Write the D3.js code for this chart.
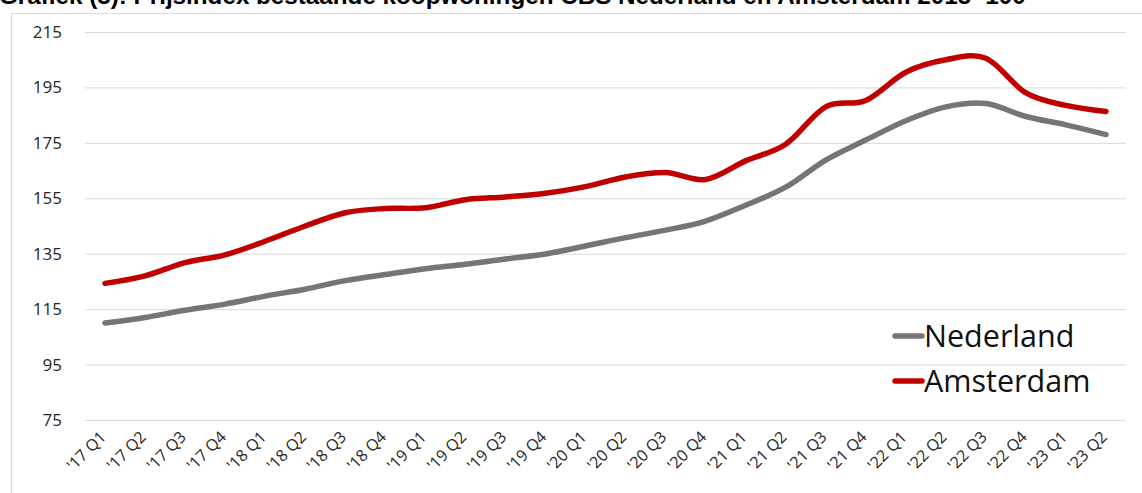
<!DOCTYPE html>
<html><head><meta charset="utf-8">
<script src="https://cdn.jsdelivr.net/npm/d3@7/dist/d3.min.js"></script>
<style>
html,body{margin:0;padding:0;background:#fff;overflow:hidden;}
svg{display:block;}
</style></head>
<body>
<svg id="chart" width="1142" height="493"></svg>
<script>
const categories = ["'17 Q1","'17 Q2","'17 Q3","'17 Q4","'18 Q1","'18 Q2","'18 Q3","'18 Q4","'19 Q1","'19 Q2","'19 Q3","'19 Q4","'20 Q1","'20 Q2","'20 Q3","'20 Q4","'21 Q1","'21 Q2","'21 Q3","'21 Q4","'22 Q1","'22 Q2","'22 Q3","'22 Q4","'23 Q1","'23 Q2"];
const nederland = [110,112,114.6,116.8,119.7,122.2,125.3,127.5,129.6,131.2,133.1,134.9,137.8,140.8,143.5,146.8,152.5,159,168.8,176,183,188,189.2,184.5,181.5,178];
const amsterdam = [124.3,127,131.8,134.6,139.5,145,149.8,151.3,151.6,154.5,155.5,156.8,159.2,162.7,164.3,161.8,168.5,174.5,188,190.3,200.5,205,205.5,193,188.5,186.3];
const yTicks = [75,95,115,135,155,175,195,215];
const seriesNames = ["Nederland","Amsterdam"];
const seriesColors = ["#787475","#c00000"];
const title = "Grafiek (3): Prijsindex bestaande koopwoningen CBS Nederland en Amsterdam 2015=100";

const svg = d3.select("#chart");
const plot = {left:85, right:1126, top:32, bottom:420};

// title (cropped at top, as in the source image)
const t = svg.append("text").attr("x",-1).attr("y",4)
  .attr("font-family","Liberation Sans, Arial, sans-serif").attr("font-weight","bold")
  .attr("font-size",20).attr("fill","#000").text(title);
const tl = t.node().getComputedTextLength();
t.attr("font-size", 20*1027/tl);

// frame
svg.append("rect").attr("x",11.5).attr("y",13.5).attr("width",1200).attr("height",600)
  .attr("fill","none").attr("stroke","#d9d9d9").attr("stroke-width",1);

const x = d3.scaleBand().domain(categories).range([plot.left, plot.right]);
const y = d3.scaleLinear().domain([75,215]).range([plot.bottom, plot.top]);

// gridlines + y labels
const yAxis = d3.axisLeft(y).tickValues(yTicks).tickSize(-(plot.right-plot.left)).tickPadding(23).tickFormat(d3.format("d"));
const gy = svg.append("g").attr("transform",`translate(${plot.left},0)`).call(yAxis);
gy.select(".domain").remove();
gy.selectAll(".tick line").attr("stroke","#d9d9d9").attr("stroke-width",1);
gy.selectAll(".tick text").attr("font-family","Open Sans, sans-serif").attr("font-size",17).attr("fill","#262626");

// x labels
const xAxis = d3.axisBottom(x).tickSize(0).tickPadding(0);
const gx = svg.append("g").attr("transform",`translate(0,${plot.bottom})`).call(xAxis);
gx.select(".domain").remove();
gx.selectAll(".tick text")
  .attr("font-family","Open Sans, sans-serif").attr("font-size",16).attr("fill","#262626")
  .attr("text-anchor","end").attr("dy",null).attr("y",null)
  .attr("transform","translate(2,18) rotate(-45)");

// lines
const line = d3.line().x((d,i)=>x(categories[i])+x.bandwidth()/2).y(d=>y(d)).curve(d3.curveCardinal.tension(0));
[nederland, amsterdam].forEach((s,k)=>{
  svg.append("path").datum(s).attr("d",line).attr("fill","none")
    .attr("stroke",seriesColors[k]).attr("stroke-width",5.5).attr("stroke-linecap","round").attr("stroke-linejoin","round");
});

// legend
const lg = svg.append("g");
seriesNames.forEach((n,k)=>{
  const yy = 336 + k*45;
  lg.append("line").attr("x1",895).attr("x2",922).attr("y1",yy).attr("y2",yy)
    .attr("stroke",seriesColors[k]).attr("stroke-width",5.5).attr("stroke-linecap","round");
  lg.append("text").attr("x",924).attr("y",yy+11).attr("font-family","Open Sans, sans-serif")
    .attr("font-size",30.5).attr("fill","#111").text(n);
});
</script>
</body></html>
